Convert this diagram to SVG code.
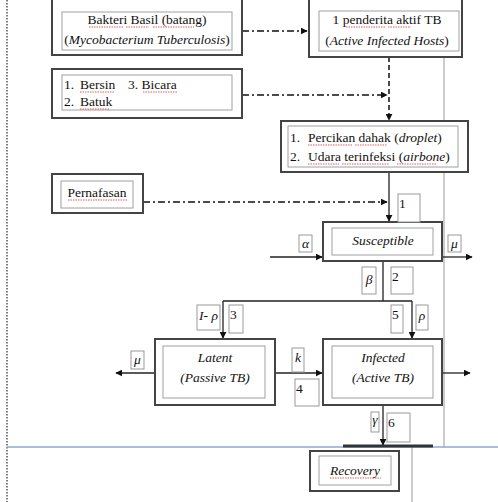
<svg xmlns="http://www.w3.org/2000/svg" width="498" height="502" viewBox="0 0 498 502" font-family="'Liberation Serif','DejaVu Serif',serif">
<defs>
<marker id="ah" viewBox="0 0 10 10" refX="9" refY="5" markerWidth="7" markerHeight="7" orient="auto" markerUnits="userSpaceOnUse"><path d="M0,0 L10,5 L0,10 z" fill="#111"/></marker>
</defs>
<style>
text{font-family:'Liberation Serif','DejaVu Serif',serif;font-size:13.5px;fill:#111}
.it{font-style:italic}
.outer{fill:#fff;stroke:#444;stroke-width:2}
.inner{fill:none;stroke:#a0a0a0;stroke-width:1}
.lbl{fill:#fff;stroke:#999;stroke-width:1}
.dd{fill:none;stroke:#111;stroke-width:1.5;stroke-dasharray:7,3,2,3}
.ds{fill:none;stroke:#111;stroke-width:1.5;stroke-dasharray:5,3}
.ln{fill:none;stroke:#222;stroke-width:1.3}
.sq{fill:none;stroke:#e03030;stroke-width:0.8;stroke-dasharray:1.5,1}
</style>
<rect width="498" height="502" fill="#fff"/>
<line x1="7" y1="0" x2="7" y2="502" stroke="#555" stroke-width="1.5" stroke-dasharray="1.5,1.5"/>
<line x1="444" y1="57" x2="444" y2="447" stroke="#999" stroke-width="1"/>
<line x1="412" y1="447" x2="412" y2="502" stroke="#999" stroke-width="1"/>
<line x1="7" y1="447" x2="498" y2="447" stroke="#8ea8d8" stroke-width="1.3"/>

<g id="connectors">
<path class="dd" d="M242,31 H307" marker-end="url(#ah)"/>
<path class="dd" d="M242,95 H387" marker-end="url(#ah)"/>
<path class="ds" d="M389,57 V120" marker-end="url(#ah)"/>
<path class="dd" d="M143,202 H387" marker-end="url(#ah)"/>
<path class="ln" d="M389,172 V221" marker-end="url(#ah)"/>
<path class="ln" d="M270,257 H322" marker-end="url(#ah)"/>
<path class="ln" d="M442,257 H472" marker-end="url(#ah)"/>
<path class="ln" d="M383,261 V301 M223,301 H412"/>
<path class="ln" d="M223,301 V338" marker-end="url(#ah)"/>
<path class="ln" d="M412,301 V338" marker-end="url(#ah)"/>
<path class="ln" d="M155,373 H116" marker-end="url(#ah)"/>
<path class="ln" d="M275,373 H322" marker-end="url(#ah)"/>
<path class="ln" d="M442,373 H470" marker-end="url(#ah)"/>
<path class="ln" d="M383,405 V445" marker-end="url(#ah)"/>
<line x1="343" y1="446" x2="433" y2="446" stroke="#333" stroke-width="3"/>
</g>

<g id="bakteri">
<rect class="outer" x="52" y="-2" width="190" height="57"/>
<rect class="inner" x="62" y="12" width="170" height="38"/>
<text x="147" y="24" text-anchor="middle">Bakteri Basil (batang)</text>
<text x="147" y="44" text-anchor="middle">(<tspan class="it">Mycobacterium Tuberculosis</tspan>)</text>
<path class="sq" d="M89,27 H123 M126,27 H149 M153,27 H194"/>
</g>

<g id="aktif">
<rect class="outer" x="309" y="-2" width="153" height="59"/>
<rect class="inner" x="319" y="11" width="140" height="40"/>
<text x="387" y="24" text-anchor="middle">1 penderita aktif TB</text>
<text x="387" y="45" text-anchor="middle">(<tspan class="it">Active Infected Hosts</tspan>)</text>
<path class="sq" d="M346,27 H385 M388,27 H411"/>
</g>

<g id="bersin">
<rect class="outer" x="52" y="69" width="190" height="49"/>
<rect class="inner" x="62" y="75" width="170" height="35"/>
<text x="64" y="89">1.</text><text x="80" y="89">Bersin</text><text x="128" y="89">3. Bicara</text>
<text x="64" y="106">2.</text><text x="80" y="106">Batuk</text>
<path class="sq" d="M80,92 H114 M143,92 H177 M80,109 H110"/>
</g>

<g id="percikan">
<rect class="outer" x="281" y="121" width="187" height="51"/>
<rect class="inner" x="288" y="126" width="170" height="41"/>
<text x="290" y="142">1.</text><text x="308" y="142">Percikan dahak (<tspan class="it">droplet</tspan>)</text>
<text x="290" y="161">2.</text><text x="308" y="161">Udara terinfeksi (<tspan class="it">airbone</tspan>)</text>
<path class="sq" d="M308,145 H352 M355,145 H387 M308,164 H339 M342,164 H389 M397,164 H436"/>
</g>

<g id="pernafasan">
<rect class="outer" x="52" y="174" width="91" height="39"/>
<rect class="inner" x="61" y="181" width="72" height="27"/>
<text x="97" y="197" text-anchor="middle">Pernafasan</text>
<path class="sq" d="M68,200 H127"/>
</g>

<g id="susceptible">
<rect class="outer" x="323" y="222" width="119" height="39"/>
<rect class="inner" x="332" y="228" width="101" height="27"/>
<text class="it" x="383" y="245" text-anchor="middle">Susceptible</text>
</g>

<g id="latent">
<rect class="outer" x="155" y="339" width="120" height="66"/>
<rect class="inner" x="163" y="346" width="102" height="52"/>
<text class="it" x="215" y="362" text-anchor="middle">Latent</text>
<text class="it" x="215" y="382" text-anchor="middle">(Passive TB)</text>
</g>

<g id="infected">
<rect class="outer" x="323" y="339" width="119" height="66"/>
<rect class="inner" x="332" y="346" width="101" height="52"/>
<text class="it" x="383" y="362" text-anchor="middle">Infected</text>
<text class="it" x="383" y="382" text-anchor="middle">(Active TB)</text>
</g>

<g id="recovery">
<rect class="outer" x="310" y="451" width="89" height="40"/>
<rect class="inner" x="319" y="456" width="72" height="29"/>
<text class="it" x="355" y="475" text-anchor="middle">Recovery</text>
<path class="sq" d="M330,478 H381"/>
</g>

<g id="labels">
<rect class="lbl" x="398" y="194" width="22" height="28"/><text x="399" y="208" font-size="11" fill="#446">1</text>
<rect class="lbl" x="299" y="235" width="13" height="17"/><text class="it" x="305.5" y="248" text-anchor="middle" font-size="12">α</text>
<rect class="lbl" x="448" y="235" width="13" height="17"/><text class="it" x="454.5" y="248" text-anchor="middle" font-size="12">μ</text>
<rect class="lbl" x="362" y="267" width="14" height="27"/><text class="it" x="369" y="284" text-anchor="middle" font-size="12" fill="#264">β</text>
<rect class="lbl" x="391" y="267" width="22" height="27"/><text x="392" y="281" font-size="11">2</text>
<rect class="lbl" x="197" y="305" width="23" height="25"/><text class="it" x="208.5" y="320" text-anchor="middle" font-size="12">I- ρ</text>
<rect class="lbl" x="229" y="305" width="14" height="28"/><text x="230" y="319" font-size="11">3</text>
<rect class="lbl" x="391" y="305" width="12" height="28"/><text x="392" y="319" font-size="11">5</text>
<rect class="lbl" x="416" y="305" width="12" height="25"/><text class="it" x="422" y="320" text-anchor="middle" font-size="12">ρ</text>
<rect class="lbl" x="131" y="351" width="13" height="18"/><text class="it" x="137.5" y="364" text-anchor="middle" font-size="12">μ</text>
<rect class="lbl" x="292" y="348" width="12" height="24"/><text class="it" x="298" y="362" text-anchor="middle" font-size="12">k</text>
<rect class="lbl" x="295" y="379" width="24" height="27"/><text x="296" y="393" font-size="11">4</text>
<rect class="lbl" x="371" y="412" width="8" height="20"/><text class="it" x="375" y="424" text-anchor="middle" font-size="11">γ</text>
<rect class="lbl" x="387" y="413" width="23" height="29"/><text x="388" y="427" font-size="11">6</text>
</g>
</svg>
